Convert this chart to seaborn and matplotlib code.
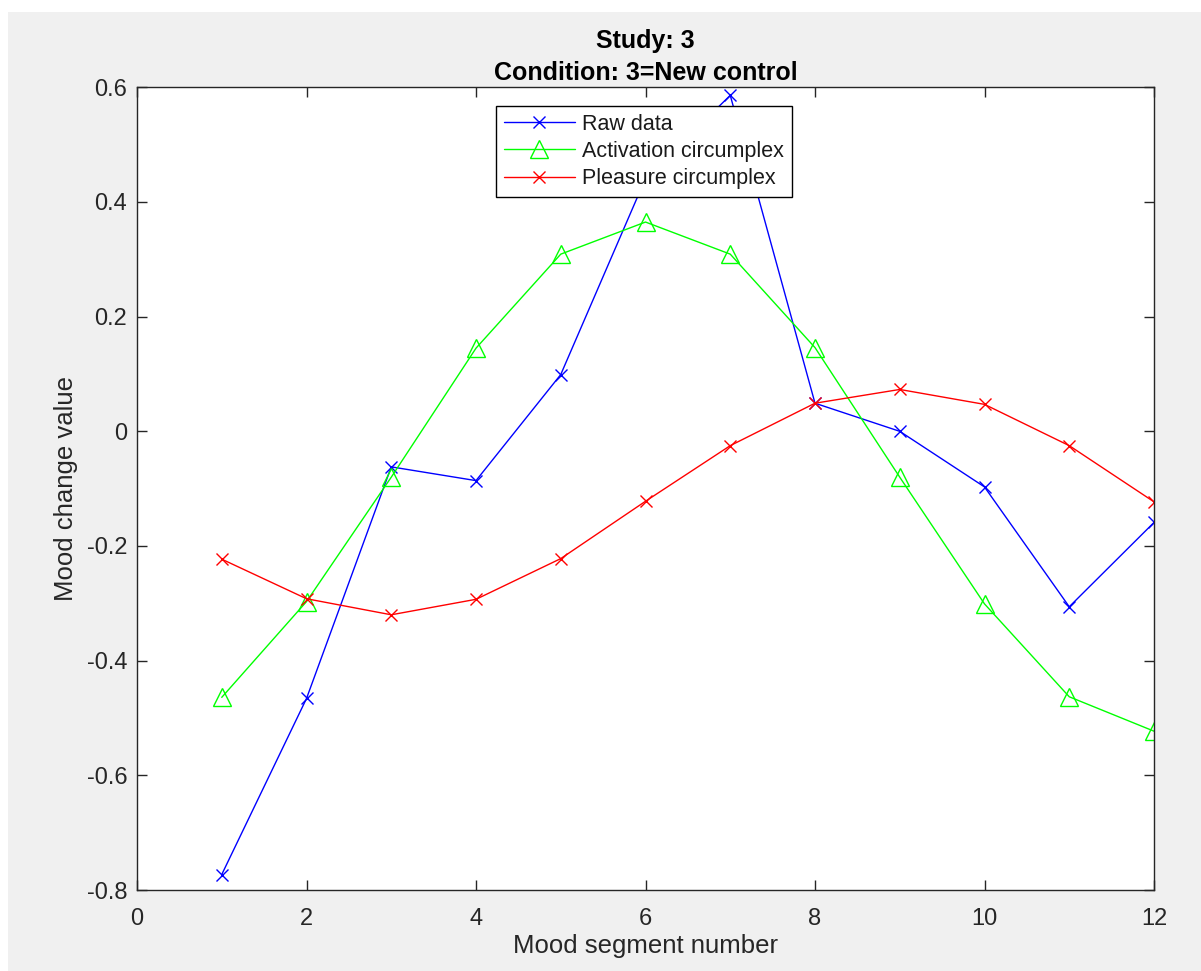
import matplotlib
matplotlib.use("Agg")
import matplotlib.pyplot as plt
from matplotlib.patches import Rectangle
import seaborn as sns
import pandas as pd

# ---- data ----
segments = [1, 2, 3, 4, 5, 6, 7, 8, 9, 10, 11, 12]
raw_data = [-0.773, -0.466, -0.062, -0.086, 0.099, 0.441, 0.586, 0.049, 0.000, -0.097, -0.306, -0.159]
activation = [-0.464, -0.297, -0.080, 0.145, 0.309, 0.365, 0.309, 0.146, -0.080, -0.301, -0.463, -0.523]
pleasure = [-0.223, -0.292, -0.320, -0.293, -0.222, -0.122, -0.025, 0.049, 0.073, 0.047, -0.025, -0.123]
series_names = ["Raw data", "Activation circumplex", "Pleasure circumplex"]
xticks = [0, 2, 4, 6, 8, 10, 12]
yticks = [-0.8, -0.6, -0.4, -0.2, 0, 0.2, 0.4, 0.6]
ytick_labels = ["-0.8", "-0.6", "-0.4", "-0.2", "0", "0.2", "0.4", "0.6"]
title_text = "Study: 3\nCondition: 3=New control"
xlabel_text = "Mood segment number"
ylabel_text = "Mood change value"

sns.set_style("white")
plt.rcParams["font.family"] = ["Liberation Sans", "DejaVu Sans"]

W, H = 1201, 971
fig = plt.figure(figsize=(W / 100, H / 100), dpi=100, facecolor="white")
fig.patches.append(Rectangle((8 / W, 0), 1 - 8 / W, (H - 12) / H, transform=fig.transFigure,
                             facecolor="#f0f0f0", edgecolor="none", zorder=-10))
ax = fig.add_axes([137 / W, (H - 890) / H, (1154 - 137) / W, (890 - 87.3) / H])
ax.set_facecolor("white")

df = pd.DataFrame({"seg": segments, "raw": raw_data, "act": activation, "ple": pleasure})
axis_col = "#262626"

sns.lineplot(data=df, x="seg", y="raw", ax=ax, color="#0000ff", lw=1.0, marker="x",
             markersize=9, markeredgecolor="#0000ff", markeredgewidth=1.0,
             label=series_names[0], sort=False)
sns.lineplot(data=df, x="seg", y="act", ax=ax, color="#00ff00", lw=1.0, marker="^",
             markersize=13, markerfacecolor="none", markeredgecolor="#00ff00", markeredgewidth=1.0,
             label=series_names[1], sort=False)
sns.lineplot(data=df, x="seg", y="ple", ax=ax, color="#ff0000", lw=1.0, marker="x",
             markersize=9, markeredgecolor="#ff0000", markeredgewidth=1.0,
             label=series_names[2], sort=False)

ax.set_xlim(0, 12)
ax.set_ylim(-0.8, 0.6)
ax.set_xticks(xticks)
ax.set_xticklabels([str(t) for t in xticks])
ax.set_yticks(yticks)
ax.set_yticklabels(ytick_labels)
for s in ax.spines.values():
    s.set_visible(True)
    s.set_color(axis_col)
    s.set_linewidth(1.0)
ax.tick_params(axis="both", which="both", direction="in", length=7, width=1.0, color=axis_col,
               labelcolor=axis_col, labelsize=17, top=True, right=True, left=True, bottom=True)
ax.tick_params(axis="x", pad=13)
ax.tick_params(axis="y", pad=7)

ax.set_xlabel(xlabel_text, fontsize=18.5, color=axis_col, labelpad=3)
ax.set_ylabel(ylabel_text, fontsize=18.5, color=axis_col, labelpad=6)
ax.set_title(title_text, fontsize=18, fontweight="bold", color="black", pad=5, linespacing=1.45)

leg = ax.legend(loc="upper left", bbox_to_anchor=((496 - 137) / (1154 - 137), (890 - 106) / (890 - 87.3)),
                borderaxespad=0, fontsize=15.5, frameon=True, fancybox=False, framealpha=1,
                edgecolor="black", handlelength=3.3, handletextpad=0.35, labelspacing=0.3,
                borderpad=0.35)
leg.get_frame().set_linewidth(1.0)
for t in leg.get_texts():
    t.set_color("#1a1a1a")

fig.savefig("out.png", dpi=100, facecolor="white")
